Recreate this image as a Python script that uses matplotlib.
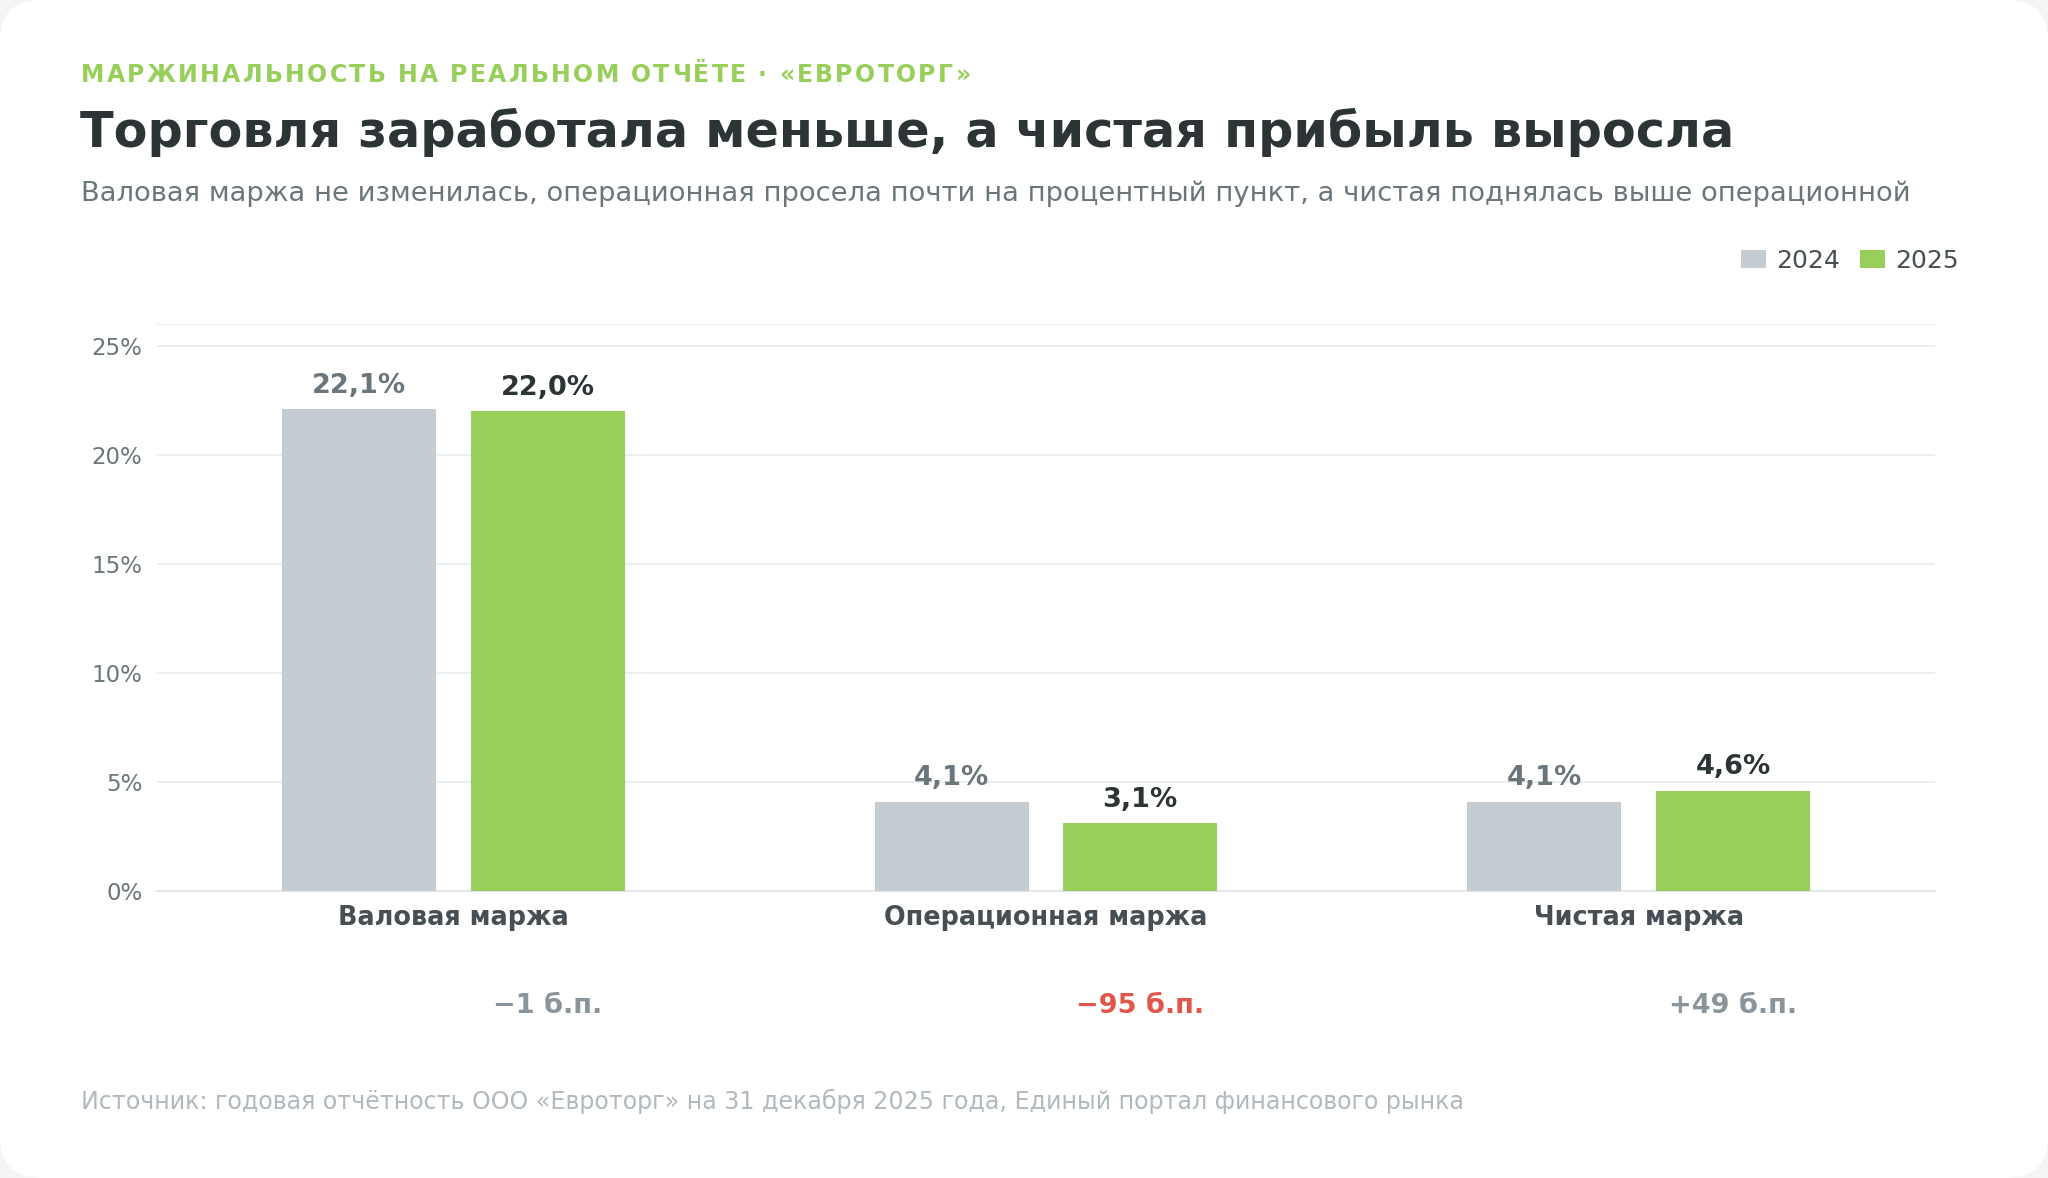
import numpy as np
import matplotlib.pyplot as plt
from matplotlib.patches import FancyBboxPatch, Patch
from matplotlib.ticker import FuncFormatter

categories = ['Валовая маржа', 'Операционная маржа', 'Чистая маржа']
years = ['2024', '2025']
margin_2024 = [22.1, 4.1, 4.1]
margin_2025 = [22.0, 3.1, 4.6]
delta_labels = ['−1 б.п.', '−95 б.п.', '+49 б.п.']
delta_colors = ['#8a959b', '#e0574a', '#8a959b']

GRAY = '#c5ccd2'
GREEN = '#97cf5a'
DARK = '#2d3436'
MID = '#6b767c'

plt.rcParams['font.family'] = ['DejaVu Sans']

fig = plt.figure(figsize=(20.48, 11.78), dpi=100)
fig.patch.set_facecolor('#f2f4f5')
card = FancyBboxPatch((0.0, 0.0), 1.0, 1.0, boxstyle='round,pad=0,rounding_size=0.02',
                      transform=fig.transFigure, facecolor='white', edgecolor='none',
                      mutation_aspect=2048/1178, zorder=-10)
fig.patches.append(card)

W, H = 2048, 1178
def fx(px): return px / W
def fy(py): return 1 - py / H

# eyebrow with letter spacing, drawn char by char
renderer = fig.canvas.get_renderer()
eyebrow = 'МАРЖИНАЛЬНОСТЬ НА РЕАЛЬНОМ ОТЧЁТЕ · «ЕВРОТОРГ»'
cx = 81
for ch in eyebrow:
    t = fig.text(fx(cx), fy(75.5), ch, color=GREEN, fontsize=17, fontweight='bold',
                 va='center', ha='left')
    if ch == ' ':
        w = t.get_fontsize() * 0.318 * 100 / 72
    else:
        w = t.get_window_extent(renderer).width
    cx += w + 2.3

fig.text(fx(80), fy(132.5), 'Торговля заработала меньше, а чистая прибыль выросла', color=DARK,
         fontsize=35.5, fontweight='bold', va='center', ha='left')
fig.text(fx(81), fy(194), 'Валовая маржа не изменилась, операционная просела почти на процентный пункт, '
         'а чистая поднялась выше операционной', color=MID, fontsize=19.7, va='center', ha='left')
fig.text(fx(81), fy(1101), 'Источник: годовая отчётность ООО «Евроторг» на 31 декабря 2025 года, '
         'Единый портал финансового рынка', color='#b0b9bf', fontsize=17.1, va='center', ha='left')

ax = fig.add_axes([fx(157), fy(891), fx(1935) - fx(157), fy(324) - fy(891)])
ax.set_facecolor('none')

x = np.arange(len(categories))
off = 0.159
bw = 0.26
ax.bar(x - off, margin_2024, bw, color=GRAY, zorder=3, label=years[0])
ax.bar(x + off, margin_2025, bw, color=GREEN, zorder=3, label=years[1])

for xi, v in zip(x, margin_2024):
    ax.annotate(f'{v:.1f}%'.replace('.', ','), (xi - off, v), xytext=(0, 7.5), textcoords='offset points',
                ha='center', va='bottom', fontsize=19.5, fontweight='bold', color=MID)
for xi, v in zip(x, margin_2025):
    ax.annotate(f'{v:.1f}%'.replace('.', ','), (xi + off, v), xytext=(0, 7.5), textcoords='offset points',
                ha='center', va='bottom', fontsize=19.5, fontweight='bold', color=DARK)

ax.set_xlim(-0.5, 2.5)
ax.set_ylim(0, 26)
ax.set_yticks([0, 5, 10, 15, 20, 25])
ax.yaxis.set_major_formatter(FuncFormatter(lambda v, p: f'{v:.0f}%'))
ax.set_xticks(x)
ax.set_xticklabels(categories, fontsize=18.4, fontweight='bold', color='#474f54')
ax.tick_params(axis='x', length=0, pad=10)
ax.tick_params(axis='y', length=0, pad=10.5, labelsize=16.5, labelcolor=MID)
ax.grid(axis='y', color='#edf0f2', linewidth=1.5, zorder=0)
ax.axhline(26, color='#edf0f2', linewidth=1.5, zorder=0)
for s in ['top', 'right', 'left']:
    ax.spines[s].set_visible(False)
ax.spines['bottom'].set_color('#e3e7ea')
ax.spines['bottom'].set_linewidth(1.5)

# deltas under the categories
for xi, lab, c in zip(x, delta_labels, delta_colors):
    ax.annotate(lab, (xi + off, 0), xytext=(0, -83), textcoords='offset points',
                ha='center', va='center', fontsize=19.5, fontweight='bold', color=c,
                annotation_clip=False)

handles = [Patch(facecolor=GRAY, label=years[0]), Patch(facecolor=GREEN, label=years[1])]
leg = fig.legend(handles=handles, loc='center right', bbox_to_anchor=(fx(1981), fy(261)),
                 ncol=2, frameon=False, fontsize=18, handlelength=1.0, handleheight=0.75,
                 handletextpad=0.4, columnspacing=0.8, labelcolor='#474f54')

fig.savefig('out.png', dpi=100, facecolor=fig.get_facecolor())
